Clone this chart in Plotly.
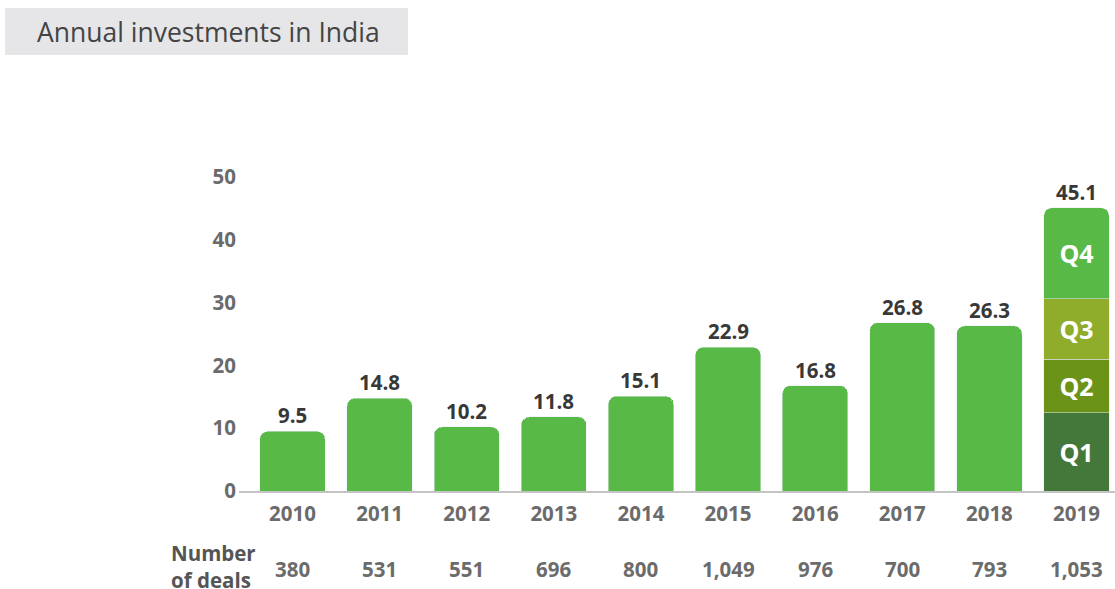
import plotly.graph_objects as go

years = ["2010", "2011", "2012", "2013", "2014", "2015", "2016", "2017", "2018", "2019"]
investments = [9.5, 14.8, 10.2, 11.8, 15.1, 22.9, 16.8, 26.8, 26.3, None]
deals = ["380", "531", "551", "696", "800", "1,049", "976", "700", "793", "1,053"]
totals = [9.5, 14.8, 10.2, 11.8, 15.1, 22.9, 16.8, 26.8, 26.3, 45.1]
quarters = ["Q1", "Q2", "Q3", "Q4"]
q2019 = [12.5, 8.5, 9.6, 14.5]

GREEN = "#58b947"
qcolors = ["#44783b", "#6b9317", "#8fac2a", GREEN]
FONT = "Open Sans"
GREY = "#6b6b6b"
DARK = "#383838"

W, H = 1115, 589
ML, MR, MT, MB = 239, 0, 100, 98
PW, PH = W - ML - MR, H - MT - MB
PX_PER_UNIT = 6.28
LBL = 20.5

fig = go.Figure()

fig.add_trace(go.Bar(
    x=years[:-1], y=investments[:-1], marker_color=GREEN, width=0.75,
    showlegend=False, hoverinfo="skip",
))

for q, v, c in zip(quarters, q2019, qcolors):
    fig.add_trace(go.Bar(
        x=[years[-1]], y=[v], marker_color=c, width=0.75,
        text=[q], textposition="inside", insidetextanchor="middle",
        textfont=dict(family=FONT, size=25, color="white", weight="bold"),
        showlegend=False, hoverinfo="skip",
    ))

# value labels (x = category index)
for i, t in enumerate(totals):
    fig.add_annotation(
        x=i, y=t, xref="x", yref="y", text=f"{t:.1f}", showarrow=False,
        yanchor="bottom", yshift=0,
        font=dict(family=FONT, size=LBL, color=DARK, weight="bold"),
    )

# deals row
for i, d in enumerate(deals):
    fig.add_annotation(
        x=i, y=-(569 - (H - MB)) / PH, xref="x", yref="paper", text=d,
        showarrow=False, yanchor="middle",
        font=dict(family=FONT, size=LBL, color=GREY, weight="bold"),
    )
fig.add_annotation(
    x=(258 - ML) / PW, y=-(566 - (H - MB)) / PH, xref="paper", yref="paper",
    text="Number<br>of deals", showarrow=False, xanchor="right", yanchor="middle",
    align="left", font=dict(family=FONT, size=LBL, color="#555555", weight="bold"),
)

# title box
fig.add_shape(
    type="rect", xref="paper", yref="paper",
    x0=(5 - ML) / PW, x1=(408 - ML) / PW,
    y0=((H - MB) - 55) / PH, y1=((H - MB) - 8) / PH,
    fillcolor="#e6e6e8", line_width=0, layer="below",
)
fig.add_annotation(
    x=(35 - ML) / PW, y=((H - MB) - 32) / PH, xref="paper", yref="paper",
    text="Annual investments in India", showarrow=False,
    xanchor="left", yanchor="middle",
    font=dict(family=FONT, size=26.5, color="#444444"),
)

fig.update_layout(
    width=W, height=H, barmode="stack", barcornerradius=8,
    margin=dict(l=ML, r=MR, t=MT, b=MB),
    plot_bgcolor="white", paper_bgcolor="white",
    font=dict(family=FONT),
    xaxis=dict(
        type="category", range=[-0.614, 9.442], showgrid=False,
        showline=True, linecolor="#c4c4c4", linewidth=1.5, ticks="",
        ticklabelstandoff=4,
        tickfont=dict(family=FONT, size=LBL, color=GREY, weight="bold"),
    ),
    yaxis=dict(
        range=[0, PH / PX_PER_UNIT], tickvals=[0, 10, 20, 30, 40, 50],
        showgrid=False, zeroline=False, showline=False, ticks="",
        ticklabelstandoff=2,
        tickfont=dict(family=FONT, size=LBL, color=GREY, weight="bold"),
    ),
)

fig.write_html(
    "out.html",
    config={"displayModeBar": False},
    post_script="document.body.style.margin='0';document.body.style.padding='0';",
)
